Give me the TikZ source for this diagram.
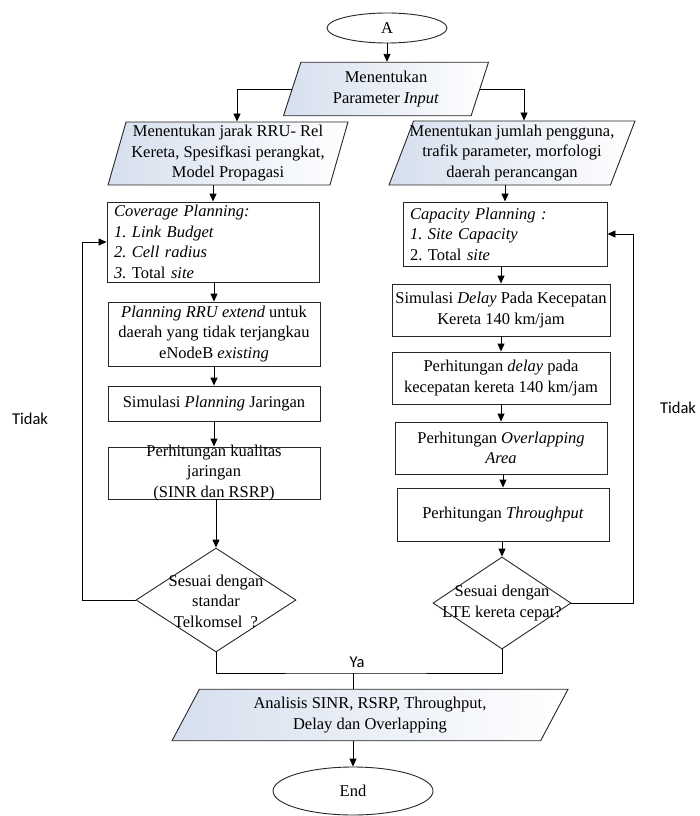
\documentclass[tikz,border=0pt]{standalone}
\usepackage{fontspec}
\setmainfont{Liberation Serif}
\newfontfamily\lblfont{Carlito}
\usepackage{tikz}
\usetikzlibrary{shapes.geometric,arrows.meta}
\definecolor{iofill}{RGB}{214,223,238}
\frenchspacing

\begin{document}
\begin{tikzpicture}[x=1pt, y=-1pt, line width=0.9pt,
  txt/.style={font=\fontsize{16.5}{20.5}\selectfont, align=center, inner sep=0pt},
  box/.style={txt, rectangle, draw=black!85, fill=white},
  io/.style={txt, trapezium, trapezium stretches body, draw=black!85, left color=iofill, right color=white},
  term/.style={txt, ellipse, draw=black!85, fill=white},
  dec/.style={diamond, draw=black!85, fill=white, inner sep=0pt},
  lbl/.style={font=\lblfont\fontsize{16.5}{18}\selectfont, inner sep=0pt},
  arr/.style={-{Triangle[length=8pt,width=7pt]}}]
  \useasboundingbox (0,0) rectangle (700,816);

  \node[term, minimum width=120pt, minimum height=30pt] (start) at (387,28) {A};
  \node[io, trapezium left angle=72, trapezium right angle=108, minimum width=205pt, inner ysep=9pt] (inp) at (386,89) {Menentukan\\Parameter \textit{Input}};
  \node[io, trapezium left angle=74, trapezium right angle=106, minimum width=240pt, inner ysep=3.5pt] (lp) at (228,153.5) {Menentukan jarak RRU- Rel\\Kereta, Spesifkasi perangkat,\\Model Propagasi};
  \node[io, trapezium left angle=69, trapezium right angle=111, minimum width=246pt, inner ysep=4pt, inner xsep=-12pt] (rp) at (512,153) {Menentukan jumlah pengguna,\\trafik parameter, morfologi\\daerah perancangan};

  \node[box, text width=198pt, inner xsep=7pt, align=left, minimum height=80pt] (cov) at (213,242) {\textit{Coverage Planning:}\\\textit{1. Link Budget}\\\textit{2. Cell radius}\\\textit{3.} Total \textit{site}};
  \node[box, minimum width=212pt, minimum height=64pt] (rru) at (214,334) {\textit{Planning RRU extend} untuk\\daerah yang tidak terjangkau\\eNodeB \textit{existing}};
  \node[box, minimum width=212pt, minimum height=35pt] (sim) at (214,403.5) {Simulasi \textit{Planning} Jaringan};
  \node[box, minimum width=212pt, minimum height=52pt, inner ysep=-3pt] (kual) at (214,473) {Perhitungan kualitas\\jaringan\\(SINR dan RSRP)};
  \node[dec, minimum width=160pt, minimum height=104pt] (chk1) at (216,600) {};
  \node[txt] (chk1t) at (216,601) {Sesuai dengan\\standar\\Telkomsel\ \ ?};

  \node[box, text width=190pt, inner xsep=7pt, align=left, minimum height=64pt] (cap) at (505,234) {\textit{Capacity Planning :}\\\textit{1. Site Capacity}\\2. Total \textit{site}};
  \node[box, minimum width=218pt, minimum height=52pt] (dl1) at (501,310) {Simulasi \textit{Delay} Pada Kecepatan\\Kereta 140 km/jam};
  \node[box, minimum width=218pt, minimum height=52pt] (dl2) at (501,378) {Perhitungan \textit{delay} pada\\kecepatan kereta 140 km/jam};
  \node[box, minimum width=212pt, minimum height=52pt] (ovl) at (501,448) {Perhitungan \textit{Overlapping}\\\textit{Area}};
  \node[box, minimum width=212pt, minimum height=53pt] (thr) at (503,514.5) {Perhitungan \textit{Throughput}};
  \node[dec, minimum width=138pt, minimum height=92pt] (chk2) at (502,603) {};
  \node[txt] (chk2t) at (502,603) {Sesuai dengan\\LTE kereta cepat?};

  \node[io, trapezium left angle=62, trapezium right angle=118, minimum width=396pt, inner ysep=8pt] (ana) at (370,715) {Analisis SINR, RSRP, Throughput,\\Delay dan Overlapping};
  \node[term, minimum width=160pt, minimum height=48pt] (stop) at (353,791) {End};

  \node[lbl] (no1) at (30,419) {Tidak};
  \node[lbl] (no2) at (678,408) {Tidak};
  \node[lbl] (yes) at (357,662) {Ya};

  \coordinate (lx) at (82,0);
  \coordinate (rx) at (633,0);
  \coordinate (ya) at (353,673);

  \draw[arr] (start.south) -- (start.south |- inp.north);
  \draw[arr] (inp.west) -| ([xshift=9pt]lp.north);
  \draw[arr] (inp.east) -| ([xshift=12pt]rp.north);
  \draw[arr] (cov.north |- lp.south) -- (cov.north);
  \draw[arr] (cap.north |- rp.south) -- (cap.north);
  \draw[arr] (rru.north |- cov.south) -- (rru.north);
  \draw[arr] (sim.north |- rru.south) -- (sim.north);
  \draw[arr] (kual.north |- sim.south) -- (kual.north);
  \draw[arr] (chk1.north |- kual.south) -- (chk1.north);
  \draw[arr] (chk1.west) -| (lx |- cov.west) -- (cov.west);
  \draw[arr] (dl1.north |- cap.south) -- (dl1.north);
  \draw[arr] (dl2.north |- dl1.south) -- (dl2.north);
  \draw[arr] (ovl.north |- dl2.south) -- (ovl.north);
  \draw[arr] (thr.north |- ovl.south) -- (thr.north);
  \draw[arr] (chk2.north |- thr.south) -- (chk2.north);
  \draw[arr] (chk2.east) -| (rx |- cap.east) -- (cap.east);
  \draw (chk1.south) |- (ya) -| (chk2.south);
  \draw (ya) -- (ya |- ana.north);
  \draw[arr] (stop.north |- ana.south) -- (stop.north);
\end{tikzpicture}
\end{document}
